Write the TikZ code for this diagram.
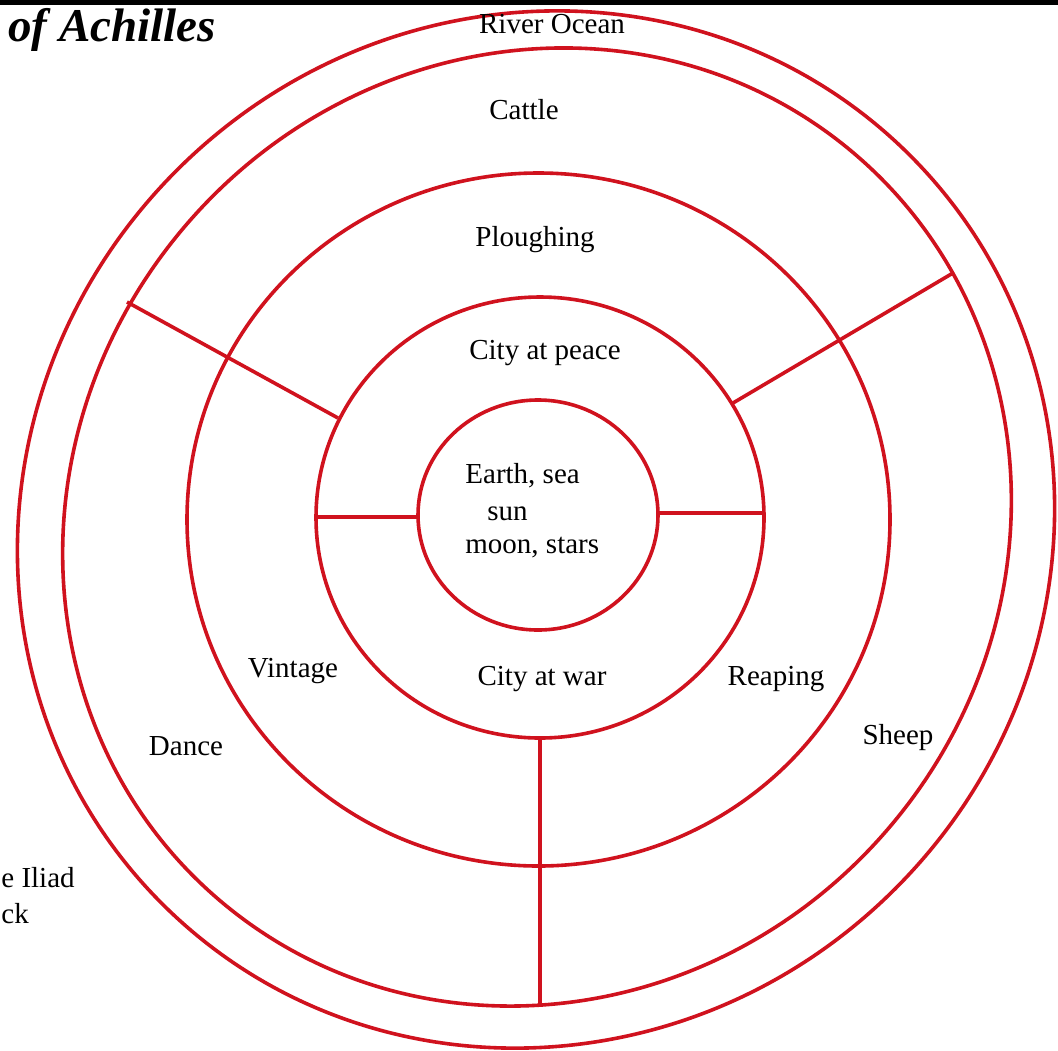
\documentclass[tikz,border=0pt]{standalone}
\usepackage{fontspec}
\setmainfont{Liberation Serif}
\begin{document}
\begin{tikzpicture}[x=0.5pt,y=-0.5pt,
  ring/.style={draw=shieldred,line width=1.8pt},
  spoke/.style={draw=shieldred,line width=1.8pt},
  lbl/.style={inner sep=0pt,font=\fontsize{14.5pt}{17pt}\selectfont,text=black}]
\definecolor{shieldred}{RGB}{208,18,30}
\useasboundingbox (0,0) rectangle (1058,1050);
\fill[white] (0,0) rectangle (1058,1050);
\fill[black] (0,0) rectangle (1058,4.5);
% rings
\coordinate (c1) at (536,529.5);
\coordinate (c2) at (537,527);
\draw[ring,rotate around={45:(c1)}] (c1) ellipse [x radius=529, y radius=508];
\draw[ring,rotate around={50:(c2)}] (c2) ellipse [x radius=490, y radius=463];
\draw[ring] (538.5,519.5) ellipse [x radius=351.5, y radius=346.5];
\draw[ring] (540,517.5) ellipse [x radius=224, y radius=220.5];
\draw[ring] (538,515) ellipse [x radius=120, y radius=115];
% spoke end points
\coordinate (ulo) at (127,302);
\coordinate (uli) at (338,418);
\coordinate (uro) at (953,273);
\coordinate (uri) at (733,403);
\coordinate (lo) at (316,517);
\coordinate (li) at (418,517);
\coordinate (ri) at (658,513);
\coordinate (ro) at (764,513);
\coordinate (bi) at (540,738);
\coordinate (bo) at (540,1005.5);
\draw[spoke] (ulo) -- (uli);
\draw[spoke] (uro) -- (uri);
\draw[spoke] (lo) -- (li);
\draw[spoke] (ri) -- (ro);
\draw[spoke] (bi) -- (bo);
% labels
\node[lbl] (river) at (552,24) {River Ocean};
\node[lbl] (cattle) at (524,110) {Cattle};
\node[lbl] (plough) at (535,240) {Ploughing};
\node[lbl] (peace) at (545,353) {City at peace};
\node[lbl,anchor=west] (earth) at (465,476) {Earth, sea};
\node[lbl,anchor=west] (sun) at (487,514) {sun};
\node[lbl,anchor=west] (moon) at (465,548) {moon, stars};
\node[lbl] (war) at (542,679) {City at war};
\node[lbl] (vintage) at (293,671) {Vintage};
\node[lbl] (reaping) at (776,679) {Reaping};
\node[lbl] (dance) at (186,746) {Dance};
\node[lbl] (sheep) at (898,738) {Sheep};
\node[lbl,anchor=west] (iliad) at (1,878) {e Iliad};
\node[lbl,anchor=west] (ck) at (1,914) {ck};
\node[inner sep=0pt,anchor=west,font=\fontsize{23.5pt}{26pt}\selectfont\bfseries\itshape] (title) at (8,30) {of Achilles};
\end{tikzpicture}
\end{document}
